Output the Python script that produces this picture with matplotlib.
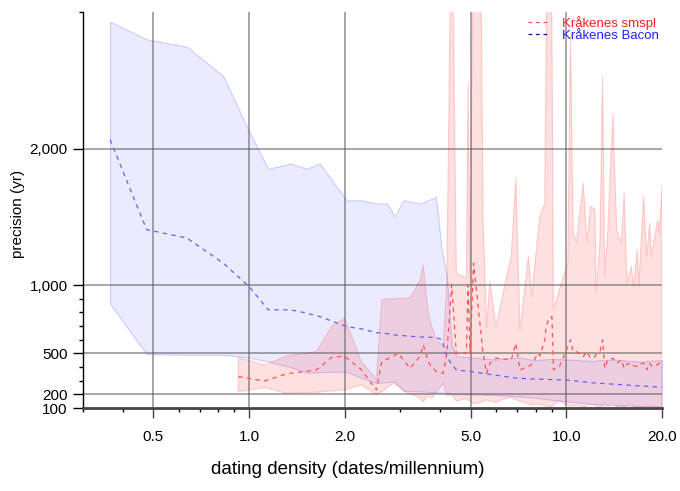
import matplotlib
matplotlib.use("Agg")
import matplotlib.pyplot as plt
from matplotlib.lines import Line2D

plt.rcParams['font.family'] = ['Liberation Sans', 'DejaVu Sans']

# ---- Bacon series ----
bacon_x = [0.365, 0.476, 0.637, 0.83, 1.0, 1.15, 1.35, 1.52, 1.67, 2.03, 2.26, 2.52, 2.72, 2.88,
           3.06, 3.46, 3.88, 4.05, 4.2, 4.35, 4.5, 5.0, 6.0, 7.0, 8.0, 9.0, 10.0, 12.0, 14.0, 17.0, 20.0]
bacon_med = [2066, 1406, 1345, 1161, 990, 819, 819, 795, 770, 696, 680, 652, 645, 635,
             630, 620, 617, 600, 476, 420, 379, 366, 340, 318, 312, 308, 305, 285, 275, 262, 252]
bacon_hi = [2929, 2800, 2746, 2530, 2127, 1851, 1890, 1853, 1890, 1621, 1621, 1597, 1597, 1503,
            1621, 1597, 1646, 1259, 1063, 560, 480, 470, 455, 470, 450, 460, 455, 445, 455, 440, 450]
bacon_lo = [863, 494, 489, 489, 470, 440, 400, 359, 362, 366, 320, 283, 290, 293,
            225, 222, 215, 212, 212, 205, 200, 200, 195, 185, 175, 160, 150, 130, 120, 115, 110]

# ---- smspl series ----
smspl_x = [0.925, 1.12, 1.31, 1.63, 1.82, 2.0, 2.26, 2.52, 2.62, 2.85, 2.95, 3.21, 3.3, 3.46, 3.54,
           3.67, 3.76, 3.9, 4.09, 4.2, 4.35, 4.5, 4.84, 4.9, 4.97, 5.1, 5.35, 5.46, 5.6, 5.74,
           6.0, 6.25, 6.7, 6.93, 7.14, 7.59, 7.77, 8.15, 8.25, 8.55, 8.63, 8.8, 9.0, 9.1, 9.5,
           10.1, 10.3, 10.5, 10.75, 11.3, 11.6, 11.9, 12.3, 12.4, 12.75, 13.0, 13.2, 13.5, 14.0,
           14.4, 14.9, 15.2, 15.5, 16.0, 16.3, 16.7, 16.9, 17.5, 17.9, 18.3, 18.5, 18.9, 19.4,
           19.6, 20.0]
smspl_med = [330, 298, 350, 379, 470, 480, 380, 232, 440, 480, 501, 391, 420, 480, 562,
             440, 400, 366, 354, 501, 1002, 501, 501, 1002, 501, 1161, 700, 501, 354, 428,
             465, 460, 452, 574, 379, 403, 420, 501, 480, 600, 700, 750, 770, 379, 403,
             550, 599, 513, 513, 476, 513, 465, 476, 490, 513, 599, 391, 452, 465,
             428, 452, 391, 420, 428, 410, 403, 420, 428, 379, 428, 410, 403, 420,
             428, 391]
smspl_hi = [472, 415, 481, 513, 696, 758, 440, 311, 897, 900, 903, 905, 950, 1039, 1149,
            800, 700, 600, 550, 1017, 4000, 1088, 1051, 2482, 1050, 4000, 4000, 1500, 687, 1027,
            696, 892, 1210, 1785, 672, 1210, 916, 1400, 1503, 1602, 2775, 4000, 2922, 819, 966,
            1161, 2824, 1393, 1308, 1749, 1308, 1577, 1552, 941, 1308, 2530, 1063, 1400, 2250,
            1406, 1308, 1675, 1015, 1137, 990, 1259, 990, 1650, 1210, 1455, 1210, 1332, 1479,
            1380, 1723]
smspl_lo = [220, 249, 208, 215, 225, 232, 269, 200, 220, 281, 260, 200, 195, 170, 146,
            195, 171, 220, 281, 190, 200, 150, 170, 160, 150, 130, 140, 150, 160, 150,
            140, 160, 180, 160, 150, 130, 120, 130, 125, 120, 115, 110, 110, 120, 150,
            120, 115, 110, 120, 105, 115, 130, 120, 110, 105, 110, 140, 120, 135,
            110, 115, 105, 120, 125, 110, 105, 115, 105, 120, 110, 115, 110, 105,
            110, 115]

y_major = [100, 200, 500, 1000, 2000]
y_major_labels = ["100", "200", "500", "1,000", "2,000"]
y_minor = [300, 400, 600, 700, 800, 900, 3000]
x_major = [0.5, 1.0, 2.0, 5.0, 10.0, 20.0]
x_major_labels = ["0.5", "1.0", "2.0", "5.0", "10.0", "20.0"]
x_minor = [0.3, 0.4, 0.6, 0.7, 0.8, 0.9, 3, 4, 6, 7, 8, 9]

fig = plt.figure(figsize=(6.8, 4.91), dpi=100)
ax = fig.add_axes([83/680, 1 - 408/491, (662-83)/680, (408-12)/491])
ax.set_xscale('log')
ax.set_xlim(0.3, 20)
ax.set_ylim(100, 3000)

# fills
ax.fill_between(bacon_x, bacon_lo, bacon_hi, facecolor=(0, 0, 1, 0.08),
                edgecolor=(0.3, 0.3, 1, 0.25), linewidth=0.8, zorder=1)
ax.fill_between(smspl_x, smspl_lo, smspl_hi, facecolor=(1, 0, 0, 0.12),
                edgecolor=(1, 0.3, 0.3, 0.25), linewidth=0.8, zorder=1.5)

# grid
for gx in [0.5, 1.0, 2.0, 5.0, 10.0]:
    ax.axvline(gx, color='#555555', alpha=0.6, linewidth=1.2, zorder=2)
for gy in [200, 500, 1000, 2000]:
    ax.axhline(gy, color='#555555', alpha=0.6, linewidth=1.2, zorder=2)

# median lines
ax.plot(bacon_x, bacon_med, color='#6060ff', linewidth=0.9, dashes=(3.5, 3.5), zorder=3)
ax.plot(smspl_x, smspl_med, color='#ff5050', linewidth=0.9, dashes=(3.5, 3.5), zorder=3.5)

# axes styling
for s in ['top', 'right']:
    ax.spines[s].set_visible(False)
ax.spines['left'].set_color('black')
ax.spines['left'].set_linewidth(1.0)
ax.spines['bottom'].set_color('#444444')
ax.spines['bottom'].set_linewidth(2.0)

ax.set_yticks(y_major)
ax.set_yticklabels(y_major_labels)
ax.set_yticks(y_minor, minor=True)
ax.set_xticks(x_major)
ax.set_xticklabels(x_major_labels)
ax.set_xticks(x_minor, minor=True)
ax.xaxis.set_minor_formatter(matplotlib.ticker.NullFormatter())
ax.tick_params(axis='both', which='major', length=7, width=1.0, labelsize=11)
ax.tick_params(axis='x', which='major', pad=9, color='#444444')
ax.tick_params(axis='y', which='major', pad=4)
ax.tick_params(axis='both', which='minor', length=3, width=1.0)

ax.set_xlabel("dating density (dates/millennium)", fontsize=13.5)
ax.xaxis.set_label_coords(0.457, -0.135)
ax.set_ylabel("precision (yr)", fontsize=11)
ax.yaxis.set_label_coords(-0.10, 0.49)

handles = [Line2D([], [], color='#ff5050', linewidth=0.9, dashes=(3, 3)),
           Line2D([], [], color='#101090', linewidth=0.9, dashes=(3, 3))]
leg = ax.legend(handles, ["Kråkenes smspl", "Kråkenes Bacon"], loc='upper right',
                bbox_to_anchor=(0.995, 0.99), frameon=False, fontsize=9.5,
                handlelength=1.5, handletextpad=1.1, labelspacing=0.0,
                borderaxespad=0.0, borderpad=0.0, labelcolor=['#ff2020', '#2020ff'])

fig.savefig("out.png", dpi=100)
